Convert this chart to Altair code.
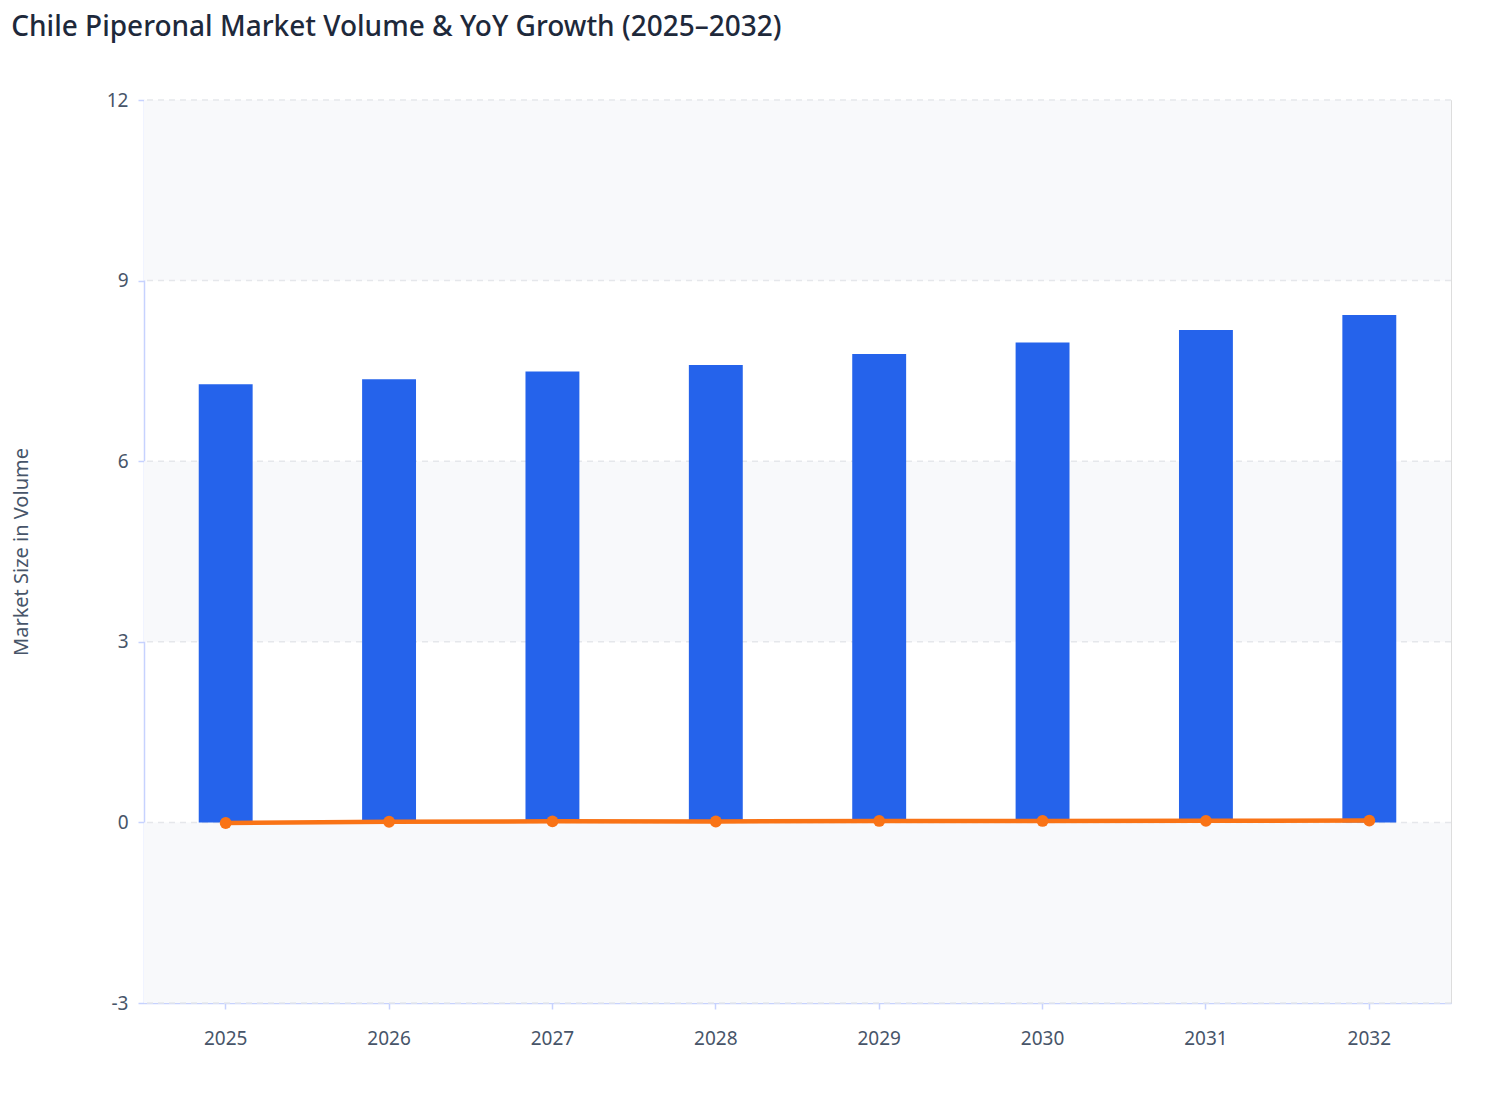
import altair as alt
import pandas as pd

years = ["2025", "2026", "2027", "2028", "2029", "2030", "2031", "2032"]
volume = [7.28, 7.36, 7.49, 7.60, 7.78, 7.97, 8.18, 8.43]
yoy = [-0.01, 0.011, 0.018, 0.015, 0.024, 0.024, 0.026, 0.030]
y_ticks = [-3, 0, 3, 6, 9, 12]
band_lo = [9, 3, -3]
band_hi = [12, 6, 0]

df = pd.DataFrame({"year": years, "volume": volume, "yoy": yoy})
bands = pd.DataFrame({"lo": band_lo, "hi": band_hi})
grid = pd.DataFrame({"v": y_ticks})

FONT = "Noto Sans"
AXIS_C = "#c7d2fe"
yscale = alt.Scale(domain=[-3, 12], nice=False, zero=False)
xscale = alt.Scale(paddingInner=0.67, paddingOuter=0.335)

band_layer = alt.Chart(bands).mark_rect(color="#f8f9fb").encode(
    y=alt.Y("lo:Q", scale=yscale,
            axis=alt.Axis(values=y_ticks, grid=False, title="Market Size in Volume",
                          labelExpr="'' + datum.value",
                          domainColor=AXIS_C, domainWidth=1.5, tickColor=AXIS_C,
                          tickWidth=1.5, tickSize=6,
                          labelColor="#475569", labelFontSize=19, labelFont=FONT,
                          labelPadding=10, titleFont=FONT, titleFontSize=20,
                          titleFontWeight="normal", titleColor="#475569",
                          titlePadding=75)),
    y2="hi:Q",
)

grid_layer = alt.Chart(grid).mark_rule(color="#e5e7eb", strokeDash=[6, 5], strokeWidth=1.5).encode(
    y=alt.Y("v:Q", scale=yscale)
)

bars = alt.Chart(df).mark_bar(color="#2563eb").encode(
    x=alt.X("year:O", scale=xscale,
            axis=alt.Axis(title=None, labelAngle=0, domainColor=AXIS_C, domainWidth=1.5,
                          tickColor=AXIS_C, tickWidth=1.5, tickSize=6, labelColor="#475569",
                          labelFontSize=19, labelFont=FONT, labelPadding=20)),
    y=alt.Y("volume:Q", scale=yscale),
)

line = alt.Chart(df).mark_line(color="#f97316", strokeWidth=4.5).encode(
    x=alt.X("year:O", scale=xscale),
    y=alt.Y("yoy:Q", scale=yscale),
)
points = alt.Chart(df).mark_point(color="#f97316", filled=True, size=140, opacity=1).encode(
    x=alt.X("year:O", scale=xscale),
    y=alt.Y("yoy:Q", scale=yscale),
)

chart = alt.layer(band_layer, grid_layer, bars, line, points).properties(
    width=1307,
    height=903,
    padding={"left": 3, "top": 6, "right": 0, "bottom": 12},
    title=alt.TitleParams(
        "Chile Piperonal Market Volume & YoY Growth (2025–2032)",
        anchor="start", frame="bounds", font=FONT, fontSize=28,
        fontWeight=500, color="#1e293b", offset=49, limit=1200,
    ),
).configure_view(strokeWidth=0).configure(background="white")

chart.save("out.html", embed_options={"renderer": "svg", "actions": False})
